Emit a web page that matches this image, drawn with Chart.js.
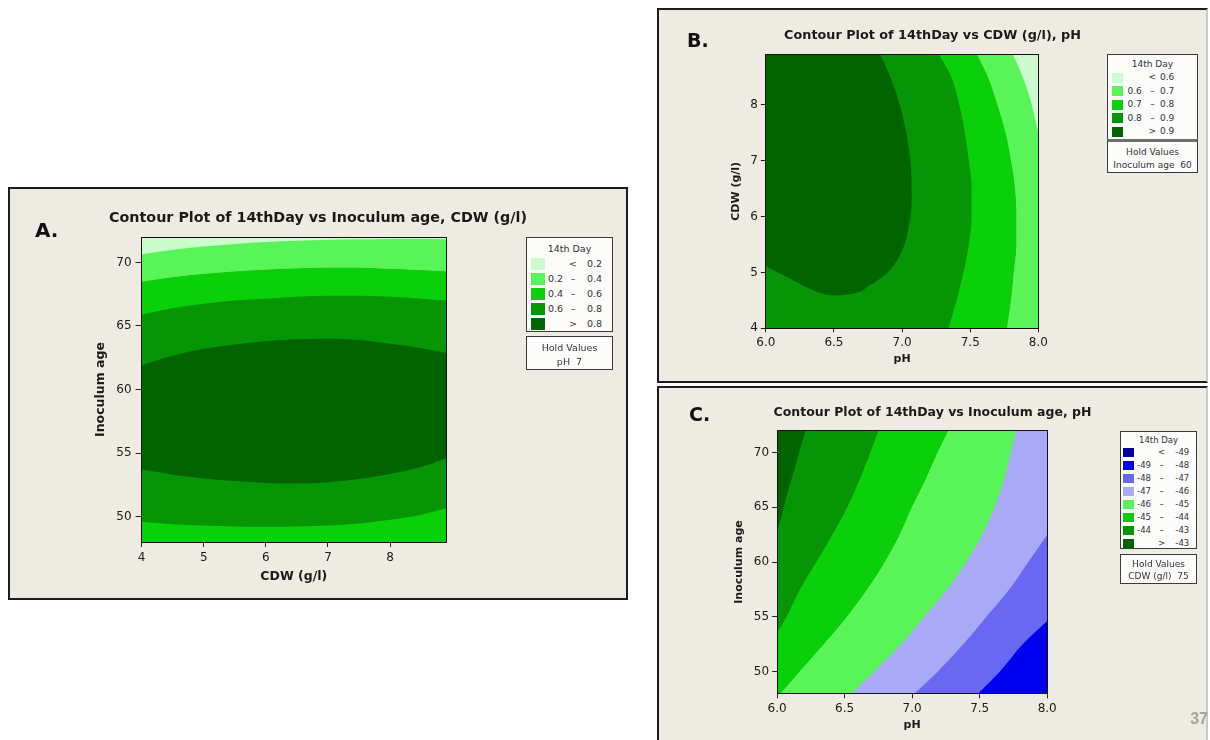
<!DOCTYPE html>
<html>
<head>
<meta charset="utf-8">
<title>14th day contour plots</title>
<script src="https://cdn.jsdelivr.net/npm/chart.js@4.4.1/dist/chart.umd.min.js"></script>
<style>
  html, body { margin: 0; padding: 0; }
  body { position: relative; width: 1210px; height: 740px; overflow: hidden; background: #fff; font-family: "DejaVu Sans", sans-serif; color: #222; }
  .panel { position: absolute; box-sizing: border-box; background: #eeebe3; border: 2px solid #1c1c1c; }
  canvas { position: absolute; }
  .tag { position: absolute; font-weight: bold; line-height: 1; color: #111; }
  .box { position: absolute; box-sizing: border-box; background: #fcfcfb; border: 1px solid #3a3a3a; color: #333; }
  .box div { position: absolute; line-height: 1; white-space: pre; }
  .box span { position: absolute; }
  .pageno { position: absolute; right: 2px; top: 710px; font: bold 16px "Liberation Sans", sans-serif; color: #a3a3a3; }
</style>
</head>
<body>
<div class="panel" style="left:8px;top:187px;width:620px;height:413px"></div>
<div class="panel" style="left:657px;top:8px;width:551px;height:375px;border-right-color:#c9c9c9"></div>
<div class="panel" style="left:657px;top:386px;width:551px;height:358px;border-right-color:#c9c9c9"></div>

<canvas id="chartA" width="620" height="413" style="left:8px;top:187px"></canvas>
<canvas id="chartB" width="551" height="375" style="left:657px;top:8px"></canvas>
<canvas id="chartC" width="551" height="358" style="left:657px;top:386px"></canvas>

<div class="tag" style="left:35px;top:219.7px;font-size:20px">A.</div>
<div class="tag" style="left:687px;top:31px;font-size:19px">B.</div>
<div class="tag" style="left:689px;top:404.5px;font-size:19px">C.</div>

<div id="legendA" class="box"></div>
<div id="holdA" class="box"></div>
<div id="legendB" class="box"></div>
<div id="holdB" class="box" style="border-top:3px solid #6d6d6d"></div>
<div id="legendC" class="box"></div>
<div id="holdC" class="box"></div>

<div class="pageno">37</div>

<script>
Chart.defaults.font.family = "'DejaVu Sans', sans-serif";
Chart.defaults.color = "#1a1a1a";

// A: Inoculum age vs CDW (g/l), pH held at 7
const aCdwRange = [4, 8.9];
const aAgeRange = [48, 72];
const aCdwTicks = [4, 5, 6, 7, 8];
const aAgeTicks = [50, 55, 60, 65, 70];
const aBreaks = [0.2, 0.4, 0.6, 0.8];
const aColors = ["#cdfbcd", "#58f458", "#0ad00a", "#059505", "#006500"];
const aHold = ["pH", 7];
// contour lines as [CDW, Inoculum age], left to right
const aLine02 = [[4, 70.65], [4.5, 71.0], [5, 71.25], [5.5, 71.45], [6, 71.6], [6.5, 71.7], [7, 71.78], [7.5, 71.82], [8, 71.85], [8.5, 71.85], [8.9, 71.83]];
const aLine04 = [[4, 68.5], [4.5, 68.85], [5, 69.1], [5.5, 69.3], [6, 69.45], [6.5, 69.55], [7, 69.6], [7.5, 69.6], [8, 69.5], [8.5, 69.4], [8.9, 69.3]];
const aLine06Top = [[4, 65.9], [4.5, 66.4], [5, 66.75], [5.5, 67.0], [6, 67.15], [6.5, 67.3], [7, 67.38], [7.5, 67.38], [8, 67.3], [8.5, 67.15], [8.9, 67.0]];
const aLine08Top = [[4, 61.9], [4.5, 62.65], [5, 63.2], [5.5, 63.55], [6, 63.8], [6.5, 63.95], [7, 64.0], [7.5, 63.9], [8, 63.6], [8.5, 63.25], [8.9, 62.9]];
const aLine08Bottom = [[4, 53.7], [4.5, 53.3], [5, 53.0], [5.5, 52.8], [6, 52.65], [6.5, 52.6], [7, 52.7], [7.5, 52.95], [8, 53.35], [8.5, 53.9], [8.9, 54.6]];
const aLine06Bottom = [[4, 49.6], [4.5, 49.4], [5, 49.3], [5.5, 49.22], [6, 49.2], [6.5, 49.22], [7, 49.3], [7.5, 49.45], [8, 49.75], [8.5, 50.15], [8.9, 50.65]];

// B: CDW (g/l) vs pH, Inoculum age held at 60
const bPhRange = [6, 8];
const bCdwRange = [4, 8.9];
const bPhTicks = [6, 6.5, 7, 7.5, 8];
const bCdwTicks = [4, 5, 6, 7, 8];
const bBreaks = [0.6, 0.7, 0.8, 0.9];
const bColors = ["#cdfbcd", "#58f458", "#0ad00a", "#059505", "#006500"];
const bHold = ["Inoculum age", 60];
// contour lines as [pH, CDW], bottom to top
const bLine06 = [[8.0, 7.5], [7.97, 7.8], [7.94, 8.1], [7.9, 8.4], [7.85, 8.7], [7.81, 8.9]];
const bLine07 = [[7.77, 4], [7.8, 4.5], [7.82, 5], [7.84, 5.5], [7.84, 6], [7.83, 6.5], [7.8, 7], [7.76, 7.5], [7.7, 8], [7.63, 8.5], [7.55, 8.9]];
const bLine08 = [[7.34, 4], [7.4, 4.5], [7.45, 5], [7.49, 5.5], [7.51, 6], [7.51, 6.5], [7.49, 7], [7.46, 7.5], [7.42, 8], [7.36, 8.5], [7.27, 8.9]];
// 0.9 line runs from the left edge, dips, then climbs to the top edge
const bLine09 = [[6.0, 5.11], [6.12, 4.96], [6.23, 4.82], [6.37, 4.66], [6.51, 4.58], [6.64, 4.62], [6.75, 4.75], [6.87, 4.95], [6.95, 5.17], [7.01, 5.45], [7.04, 5.7], [7.07, 6.3], [7.06, 7.02], [7.01, 7.74], [6.93, 8.39], [6.84, 8.9]];

// C: Inoculum age vs pH, CDW (g/l) held at 75
const cPhRange = [6, 8];
const cAgeRange = [48, 72];
const cPhTicks = [6, 6.5, 7, 7.5, 8];
const cAgeTicks = [50, 55, 60, 65, 70];
const cBreaks = [-49, -48, -47, -46, -45, -44, -43];
const cColors = ["#00009a", "#0000ee", "#6868f2", "#a9a9f7", "#58f458", "#0ad00a", "#059505", "#006500"];
const cHold = ["CDW (g/l)", 75];
// contour lines as [pH, Inoculum age], bottom to top
const cLine43 = [[6.0, 62.8], [6.04, 64.5], [6.08, 66.5], [6.13, 68.5], [6.17, 70.3], [6.21, 72]];
const cLine44 = [[6.0, 53.5], [6.07, 55], [6.17, 57.5], [6.29, 60], [6.41, 62.5], [6.52, 65], [6.61, 67.5], [6.69, 70], [6.75, 72]];
const cLine45 = [[6.03, 48], [6.17, 50], [6.35, 52.5], [6.52, 55], [6.67, 57.5], [6.8, 60], [6.91, 62.5], [7.0, 65], [7.1, 67.5], [7.19, 70], [7.27, 72]];
const cLine46 = [[6.55, 48], [6.72, 50], [6.92, 52.5], [7.09, 55], [7.26, 57.5], [7.4, 60], [7.52, 62.5], [7.61, 65], [7.68, 67.5], [7.73, 70], [7.77, 72]];
const cLine47 = [[7.02, 48], [7.19, 50], [7.38, 52.5], [7.55, 55], [7.72, 57.5], [7.86, 60], [8.0, 62.5]];
const cLine48 = [[7.49, 48], [7.65, 50], [7.82, 52.5], [8.0, 54.6]];

// one filled band: the area between a contour line and a plot edge
function band(points, color, edge, indexAxis) {
  return {
    data: points.map(([x, y]) => ({ x, y })),
    indexAxis: indexAxis,
    xAxisID: "x",
    yAxisID: "y",
    backgroundColor: color,
    fill: { value: edge },
    borderWidth: 0,
    pointRadius: 0,
    cubicInterpolationMode: "monotone"
  };
}

function contourChart(id, layers, o) {
  const canvas = document.getElementById(id);
  const W = canvas.width;
  const H = canvas.height;
  const a = o.area; // left, top, right, bottom of the plot
  const frame = { color: "#111", width: 1, z: 1 };
  const titleLh = o.titleSize * 1.2;
  const axisFont = { size: o.axisSize, weight: "bold" };
  const tickFont = { size: o.tickSize };
  const plain = (v) => String(v);

  return new Chart(canvas, {
    type: "line",
    // first dataset is painted last, so reverse the bottom-up list
    data: { datasets: layers.slice().reverse() },
    options: {
      responsive: false,
      animation: false,
      devicePixelRatio: 1,
      events: [],
      layout: { padding: 0 },
      plugins: {
        legend: { display: false },
        tooltip: { enabled: false },
        title: {
          display: true,
          text: o.title,
          color: "#1a1a1a",
          font: { size: o.titleSize, weight: "bold" },
          padding: { top: o.titleY - titleLh / 2, bottom: a[1] - o.titleY - titleLh / 2 }
        }
      },
      scales: {
        x: {
          type: "linear",
          position: "bottom",
          min: o.xRange[0],
          max: o.xRange[1],
          afterBuildTicks: (s) => { s.ticks = o.xTicks.map((v) => ({ value: v })); },
          afterFit: (s) => { s.height = H - a[3]; },
          ticks: { font: tickFont, color: "#1a1a1a", padding: o.xTick[1], maxRotation: 0, autoSkip: false, callback: o.fmtX || plain },
          grid: { drawOnChartArea: false, tickLength: o.xTick[0], color: "#222" },
          border: frame,
          title: { display: true, text: o.xTitle, color: "#1a1a1a", font: axisFont, padding: { top: 0, bottom: H - o.xTitleY - o.axisSize * 0.6 } }
        },
        y: {
          type: "linear",
          position: "left",
          min: o.yRange[0],
          max: o.yRange[1],
          afterBuildTicks: (s) => { s.ticks = o.yTicks.map((v) => ({ value: v })); },
          afterFit: (s) => { s.width = a[0]; },
          ticks: { font: tickFont, color: "#1a1a1a", padding: o.yTick[1], autoSkip: false, callback: plain },
          grid: { drawOnChartArea: false, tickLength: o.yTick[0], color: "#222" },
          border: frame,
          title: { display: true, text: o.yTitle, color: "#1a1a1a", font: axisFont, padding: { top: o.yTitleX - o.axisSize * 0.6, bottom: 0 } }
        },
        x2: {
          type: "linear",
          position: "top",
          min: o.xRange[0],
          max: o.xRange[1],
          ticks: { display: false },
          grid: { display: false },
          border: frame,
          afterFit: (s) => { s.height = 0; }
        },
        y2: {
          type: "linear",
          position: "right",
          min: o.yRange[0],
          max: o.yRange[1],
          ticks: { display: false },
          grid: { display: false },
          border: frame,
          afterFit: (s) => { s.width = W - a[2]; }
        }
      }
    }
  });
}

function legendRows(breaks) {
  const rows = [["", "<", breaks[0]]];
  for (let i = 1; i < breaks.length; i++) {
    rows.push([breaks[i - 1], "\u2013", breaks[i]]);
  }
  rows.push(["", ">", breaks[breaks.length - 1]]);
  return rows;
}

function place(el, x, y, w, h, size) {
  el.style.left = x + "px";
  el.style.top = y + "px";
  el.style.width = w + "px";
  el.style.height = h + "px";
  el.style.fontSize = size + "px";
}

function drawLegend(id, breaks, colors, g) {
  const el = document.getElementById(id);
  const s = g.size;
  place(el, g.x, g.y, g.w, g.h, s);
  let html = `<div style="left:0;width:100%;text-align:center;top:${g.head - s / 2}px">14th Day</div>`;
  legendRows(breaks).forEach(([lo, sym, hi], i) => {
    const y = g.row0 + i * g.step;
    html += `<span style="left:${g.sw[0]}px;top:${y - g.sw[2] / 2}px;width:${g.sw[1]}px;height:${g.sw[2]}px;background:${colors[i]}"></span>`;
    html += `<div style="right:${g.w - g.lo}px;top:${y - s / 2}px">${lo}</div>`;
    html += `<div style="left:${g.sym - 8}px;width:16px;text-align:center;top:${y - s / 2}px">${sym}</div>`;
    html += `<div style="right:${g.w - g.hi}px;top:${y - s / 2}px">${hi}</div>`;
  });
  el.innerHTML = html;
}

function drawHold(id, hold, g) {
  const el = document.getElementById(id);
  const s = g.size;
  place(el, g.x, g.y, g.w, g.h, s);
  el.innerHTML =
    `<div style="left:0;width:100%;text-align:center;top:${g.rows[0] - s / 2}px">Hold Values</div>` +
    `<div style="left:0;width:100%;text-align:center;top:${g.rows[1] - s / 2}px">${hold[0]}  ${hold[1]}</div>`;
}

const oneDecimal = (v) => v.toFixed(1);

contourChart("chartA", [
  band(aLine04, aColors[1], aAgeRange[1], "x"),
  band(aLine04, aColors[2], aAgeRange[0], "x"),
  band(aLine02, aColors[0], aAgeRange[1], "x"),
  band(aLine06Top, aColors[3], aAgeRange[0], "x"),
  band(aLine08Top, aColors[4], aAgeRange[0], "x"),
  band(aLine08Bottom, aColors[3], aAgeRange[0], "x"),
  band(aLine06Bottom, aColors[2], aAgeRange[0], "x")
], {
  title: "Contour Plot of 14thDay vs Inoculum age, CDW (g/l)",
  titleSize: 14.3, titleY: 31.3,
  area: [133.6, 50, 438, 355],
  xRange: aCdwRange, yRange: aAgeRange, xTicks: aCdwTicks, yTicks: aAgeTicks,
  xTitle: "CDW (g/l)", yTitle: "Inoculum age",
  axisSize: 12.5, tickSize: 12, xTitleY: 390, yTitleX: 93,
  xTick: [5, 4], yTick: [6, 4]
});

// the >0.9 pocket: right-hand part of the line filled leftwards,
// then the strip under its left-hand dip painted back as 0.8-0.9
const bLow = bLine09.reduce((m, p, i) => (p[1] < bLine09[m][1] ? i : m), 0);
contourChart("chartB", [
  band(bLine07, bColors[1], bPhRange[1], "y"),
  band(bLine07, bColors[2], bPhRange[0], "y"),
  band(bLine06, bColors[0], bPhRange[1], "y"),
  band(bLine08, bColors[3], bPhRange[0], "y"),
  band(bLine09.slice(bLow), bColors[4], bPhRange[0], "y"),
  band(bLine09.slice(0, bLow + 2), bColors[3], bCdwRange[0], "x")
], {
  title: "Contour Plot of 14thDay vs CDW (g/l), pH",
  titleSize: 12.8, titleY: 27.5,
  area: [108.8, 46.3, 381.4, 320.3],
  xRange: bPhRange, yRange: bCdwRange, xTicks: bPhTicks, yTicks: bCdwTicks,
  xTitle: "pH", yTitle: "CDW (g/l)", fmtX: oneDecimal,
  axisSize: 11, tickSize: 12, xTitleY: 351, yTitleX: 78.7,
  xTick: [4, 3], yTick: [5, 3]
});

contourChart("chartC", [
  band(cLine45, cColors[5], cPhRange[0], "y"),
  band(cLine45, cColors[4], cPhRange[1], "y"),
  band(cLine44, cColors[6], cPhRange[0], "y"),
  band(cLine43, cColors[7], cPhRange[0], "y"),
  band(cLine46, cColors[3], cPhRange[1], "y"),
  band(cLine47, cColors[2], cPhRange[1], "y"),
  band(cLine48, cColors[1], cPhRange[1], "y")
], {
  title: "Contour Plot of 14thDay vs Inoculum age, pH",
  titleSize: 12.5, titleY: 26.5,
  area: [120.1, 44.7, 390.2, 307.3],
  xRange: cPhRange, yRange: cAgeRange, xTicks: cPhTicks, yTicks: cAgeTicks,
  xTitle: "pH", yTitle: "Inoculum age", fmtX: oneDecimal,
  axisSize: 11, tickSize: 12, xTitleY: 339, yTitleX: 81.9,
  xTick: [5, 3], yTick: [5, 3]
});

drawLegend("legendA", aBreaks, aColors, { x: 526, y: 237, w: 87, h: 95, size: 9.5, head: 11, row0: 26, step: 15, sw: [4, 14, 12], lo: 38, sym: 46, hi: 77 });
drawHold("holdA", aHold, { x: 526, y: 336, w: 87, h: 34, size: 9.5, rows: [11, 25] });

drawLegend("legendB", bBreaks, bColors, { x: 1107, y: 54, w: 91, h: 86, size: 9, head: 9.3, row0: 22.7, step: 13.5, sw: [3.6, 11.7, 10], lo: 35.8, sym: 44.4, hi: 68.3 });
drawHold("holdB", bHold, { x: 1107, y: 139, w: 91, h: 34, size: 9, rows: [10.5, 23.5] });

drawLegend("legendC", cBreaks, cColors, { x: 1120, y: 431, w: 77, h: 118, size: 8.5, head: 8, row0: 20.7, step: 13, sw: [2, 10.5, 9.5], lo: 32, sym: 40.5, hi: 70.2 });
drawHold("holdC", cHold, { x: 1120, y: 554, w: 77, h: 30, size: 9, rows: [9.3, 21.7] });
</script>
</body>
</html>
